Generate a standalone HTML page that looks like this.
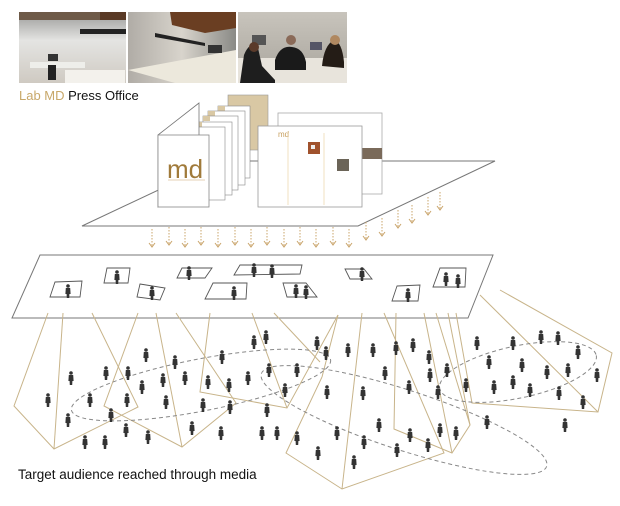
<!DOCTYPE html>
<html><head><meta charset="utf-8"><style>
html,body{margin:0;padding:0;background:#fff;}
svg{display:block;font-family:"Liberation Sans",Arial,sans-serif;}
</style></head><body>
<svg width="620" height="506" viewBox="0 0 620 506" xmlns="http://www.w3.org/2000/svg">
<defs>
<linearGradient id="g1" x1="0" y1="0" x2="0" y2="1"><stop offset="0" stop-color="#9a9a98"/><stop offset="0.4" stop-color="#e4e4e2"/><stop offset="1" stop-color="#cfcac2"/></linearGradient>
<linearGradient id="g2" x1="0" y1="0" x2="1" y2="0"><stop offset="0" stop-color="#b0aca6"/><stop offset="0.5" stop-color="#d8d4cc"/><stop offset="1" stop-color="#8a8a86"/></linearGradient>
<linearGradient id="g3" x1="0" y1="0" x2="0" y2="1"><stop offset="0" stop-color="#c8c4bc"/><stop offset="1" stop-color="#a8a49c"/></linearGradient>
<g id="p"><circle cx="0" cy="-5" r="1.8" fill="#333"/><path d="M-2.2,-3 L2.2,-3 L2.6,3 L1.4,3 L1.2,7 L-1.2,7 L-1.4,3 L-2.6,3Z" fill="#333"/></g>
<g id="ar"><line x1="0" y1="0" x2="0" y2="17" stroke="#c9a46a" stroke-width="1" stroke-dasharray="1.5,1.5"/><path d="M-3,14 L0,18 L3,14" fill="none" stroke="#c9a46a" stroke-width="1"/></g>
</defs>

<!-- photos -->
<rect x="19" y="12" width="107" height="71" fill="url(#g1)"/>
<rect x="19" y="12" width="107" height="8" fill="#6e5a48"/>
<rect x="100" y="12" width="26" height="8" fill="#5a3a26"/>
<rect x="80" y="29" width="46" height="5" fill="#222"/>
<rect x="30" y="62" width="55" height="6" fill="#eeeeea"/>
<rect x="48" y="54" width="10" height="7" fill="#333"/>
<rect x="48" y="65" width="8" height="15" fill="#222"/>
<rect x="65" y="70" width="60" height="13" fill="#f3f1ec"/>
<rect x="128" y="12" width="108" height="71" fill="url(#g2)"/>
<polygon points="170,12 236,12 236,28 205,33 172,25" fill="#6a3e22"/>
<polygon points="155,33 205,43 205,46 155,37" fill="#222"/>
<polygon points="128,70 236,50 236,83 175,83" fill="#ece8dc"/>
<rect x="208" y="45" width="14" height="8" fill="#333"/>
<rect x="238" y="12" width="109" height="71" fill="url(#g3)"/>
<rect x="238" y="58" width="109" height="25" fill="#e8e4dc"/>
<rect x="252" y="35" width="14" height="10" fill="#555"/>
<rect x="310" y="42" width="12" height="8" fill="#556"/>
<path d="M240,83 L244,55 Q250,40 258,48 L262,66 L275,80 L275,83Z" fill="#1e1e1e"/>
<path d="M275,60 Q280,45 292,47 Q303,48 306,62 L306,70 L275,70Z" fill="#1a1a1a"/>
<circle cx="291" cy="40" r="5" fill="#8a6a58"/>
<path d="M322,66 Q324,45 334,40 Q342,42 344,62 L344,68Z" fill="#241c16"/>
<circle cx="335" cy="40" r="5" fill="#b08860"/>
<circle cx="254" cy="47" r="5" fill="#5a3a2a"/>
<text x="19" y="100" font-size="13" fill="#c8a86a">Lab MD <tspan fill="#111">Press Office</tspan></text>

<!-- platform 1 -->
<polygon points="82,226 358,226 495,161 220,161" fill="#fff" stroke="#777" stroke-width="1"/>

<rect x="278" y="113" width="104" height="81" fill="#fff" stroke="#aaa" stroke-width="0.8"/>
<rect x="362" y="148" width="20" height="11" fill="#7a6a5a"/>
<rect x="228" y="95" width="40" height="55" fill="#d9c8a4" stroke="#999" stroke-width="0.6"/>
<rect x="218" y="106" width="32" height="72" fill="#fff" stroke="#888" stroke-width="0.6"/><rect x="218" y="106" width="7" height="5" fill="#d9c8a4"/>
<rect x="208" y="111" width="37" height="74" fill="#fff" stroke="#888" stroke-width="0.6"/><rect x="208" y="111" width="7" height="5" fill="#d9c8a4"/>
<rect x="203" y="116" width="35" height="74" fill="#fff" stroke="#888" stroke-width="0.6"/><rect x="203" y="116" width="7" height="5" fill="#d9c8a4"/>
<rect x="195" y="122" width="37" height="73" fill="#fff" stroke="#888" stroke-width="0.6"/><rect x="195" y="122" width="7" height="5" fill="#d9c8a4"/>
<rect x="190" y="127" width="35" height="73" fill="#fff" stroke="#888" stroke-width="0.6"/><rect x="190" y="127" width="7" height="5" fill="#d9c8a4"/>
<polygon points="158,135 199,103 199,178 158,207" fill="#fff" stroke="#777" stroke-width="0.8"/>
<rect x="158" y="135" width="51" height="72" fill="#fff" stroke="#888" stroke-width="0.8"/>
<text x="167" y="178" font-size="26" fill="#a07a3a">md</text>
<line x1="168" y1="180" x2="205" y2="180" stroke="#c9a46a" stroke-width="0.5"/>
<rect x="258" y="126" width="104" height="81" fill="#fff" stroke="#999" stroke-width="0.8"/>
<text x="278" y="137" font-size="8" fill="#c8a060">md</text>
<line x1="288" y1="133" x2="288" y2="205" stroke="#e6cc99" stroke-width="0.6"/>
<line x1="324" y1="133" x2="324" y2="205" stroke="#e6cc99" stroke-width="0.6"/>
<rect x="308" y="142" width="12" height="12" fill="#a0522d"/><rect x="311" y="145" width="4" height="4" fill="#eee"/>
<rect x="337" y="159" width="12" height="12" fill="#6b6458"/>

<g>
<use href="#ar" x="152" y="229"/><use href="#ar" x="169" y="227"/><use href="#ar" x="185" y="229"/><use href="#ar" x="201" y="227"/><use href="#ar" x="218" y="229"/><use href="#ar" x="235" y="227"/><use href="#ar" x="251" y="229"/><use href="#ar" x="267" y="227"/><use href="#ar" x="284" y="229"/><use href="#ar" x="300" y="227"/><use href="#ar" x="316" y="229"/><use href="#ar" x="333" y="227"/><use href="#ar" x="349" y="229"/>
<use href="#ar" x="366" y="222"/><use href="#ar" x="382" y="218"/><use href="#ar" x="398" y="210"/><use href="#ar" x="412" y="205"/><use href="#ar" x="428" y="197"/><use href="#ar" x="440" y="192"/>
</g>

<polygon points="40,255 493,255 468,318 12,318" fill="#fff" stroke="#777" stroke-width="1"/>
<g fill="none" stroke="#555" stroke-width="0.9">
<polygon points="55,282 82,281 80,297 50,297"/>
<polygon points="107,268 130,268 128,283 104,283"/>
<polygon points="140,284 165,288 160,300 137,297"/>
<polygon points="182,268 212,268 205,278 177,278"/>
<polygon points="240,265 302,265 300,274 234,275"/>
<polygon points="213,283 247,283 246,299 205,299"/>
<polygon points="283,283 306,283 317,297 287,297"/>
<polygon points="345,269 364,269 372,279 350,279"/>
<polygon points="397,286 420,285 418,301 392,301"/>
<polygon points="440,268 466,268 465,287 433,287"/>
</g>
<g>
<use href="#p" x="68" y="291"/><use href="#p" x="117" y="277"/><use href="#p" x="152" y="293"/><use href="#p" x="189" y="273"/><use href="#p" x="254" y="270"/><use href="#p" x="272" y="271"/><use href="#p" x="234" y="293"/><use href="#p" x="296" y="291"/><use href="#p" x="306" y="292"/><use href="#p" x="362" y="274"/><use href="#p" x="408" y="295"/><use href="#p" x="446" y="279"/><use href="#p" x="458" y="281"/>
</g>

<g fill="none" stroke="#c8b48a" stroke-width="1">
<polyline points="48,313 14,406 54,449 138,407 92,313"/><line x1="63" y1="313" x2="54" y2="449"/>
<polyline points="138,313 104,406 182,447 236,403 176,313"/><line x1="156" y1="313" x2="182" y2="447"/>
<polyline points="210,313 200,392 287,408 338,315"/><line x1="252" y1="313" x2="287" y2="408"/><line x1="274" y1="313" x2="320" y2="362"/>
<polyline points="322,377 286,453 342,489 444,453 384,313"/><line x1="362" y1="313" x2="342" y2="489"/><line x1="338" y1="315" x2="322" y2="377"/>
<polyline points="396,313 394,429 452,453 470,425 436,313"/><line x1="424" y1="313" x2="452" y2="453"/><line x1="448" y1="313" x2="470" y2="425"/>
<polyline points="456,313 472,403 598,412 612,353 500,290"/><line x1="480" y1="295" x2="598" y2="412"/>
</g>

<g fill="none" stroke="#888" stroke-width="1" stroke-dasharray="4,3">
<ellipse cx="201" cy="385" rx="132" ry="26" transform="rotate(-11 201 385)"/>
<ellipse cx="404" cy="420" rx="150" ry="30" transform="rotate(18 404 420)"/>
<ellipse cx="518" cy="372" rx="80" ry="26" transform="rotate(-12 518 372)"/>
</g>

<g>
<use href="#p" x="48" y="400"/><use href="#p" x="71" y="378"/><use href="#p" x="68" y="420"/><use href="#p" x="85" y="442"/><use href="#p" x="105" y="442"/><use href="#p" x="106" y="373"/><use href="#p" x="90" y="400"/><use href="#p" x="111" y="415"/><use href="#p" x="128" y="373"/><use href="#p" x="127" y="400"/><use href="#p" x="126" y="430"/><use href="#p" x="146" y="355"/><use href="#p" x="142" y="387"/><use href="#p" x="148" y="437"/><use href="#p" x="163" y="380"/><use href="#p" x="166" y="402"/><use href="#p" x="175" y="362"/><use href="#p" x="185" y="378"/><use href="#p" x="192" y="428"/><use href="#p" x="203" y="405"/><use href="#p" x="208" y="382"/><use href="#p" x="221" y="433"/><use href="#p" x="222" y="357"/><use href="#p" x="229" y="385"/><use href="#p" x="230" y="407"/><use href="#p" x="248" y="378"/><use href="#p" x="254" y="342"/><use href="#p" x="266" y="337"/><use href="#p" x="262" y="433"/><use href="#p" x="269" y="370"/><use href="#p" x="267" y="410"/><use href="#p" x="277" y="433"/><use href="#p" x="285" y="390"/><use href="#p" x="297" y="370"/><use href="#p" x="297" y="438"/><use href="#p" x="317" y="343"/><use href="#p" x="326" y="353"/><use href="#p" x="327" y="392"/><use href="#p" x="318" y="453"/><use href="#p" x="337" y="433"/><use href="#p" x="348" y="350"/><use href="#p" x="354" y="462"/><use href="#p" x="363" y="393"/><use href="#p" x="364" y="442"/><use href="#p" x="373" y="350"/><use href="#p" x="379" y="425"/><use href="#p" x="385" y="373"/><use href="#p" x="396" y="348"/><use href="#p" x="397" y="450"/><use href="#p" x="409" y="387"/><use href="#p" x="410" y="435"/><use href="#p" x="413" y="345"/><use href="#p" x="429" y="357"/><use href="#p" x="430" y="375"/><use href="#p" x="428" y="445"/><use href="#p" x="438" y="392"/><use href="#p" x="440" y="430"/><use href="#p" x="447" y="370"/><use href="#p" x="456" y="433"/><use href="#p" x="466" y="385"/><use href="#p" x="477" y="343"/><use href="#p" x="487" y="422"/><use href="#p" x="489" y="362"/><use href="#p" x="494" y="387"/><use href="#p" x="513" y="343"/><use href="#p" x="513" y="382"/><use href="#p" x="522" y="365"/><use href="#p" x="530" y="390"/><use href="#p" x="541" y="337"/><use href="#p" x="547" y="372"/><use href="#p" x="558" y="338"/><use href="#p" x="559" y="393"/><use href="#p" x="568" y="370"/><use href="#p" x="578" y="352"/><use href="#p" x="583" y="402"/><use href="#p" x="597" y="375"/><use href="#p" x="565" y="425"/>
</g>

<text x="18" y="479" font-size="13.5" fill="#111">Target audience reached through media</text>
</svg>
</body></html>
